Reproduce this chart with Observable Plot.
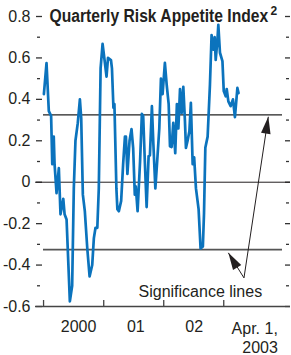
<!DOCTYPE html>
<html><head><meta charset="utf-8">
<script src="https://cdn.jsdelivr.net/npm/d3@7"></script>
<script src="https://cdn.jsdelivr.net/npm/@observablehq/plot@0.6"></script>
<style>html,body{margin:0;padding:0;background:#fff;} svg{display:block;}</style>
</head><body>
<div id="chart"></div>
<script>
const dates = ["2000-01-03","2000-01-19","2000-02-02","2000-02-16","2000-02-23","2000-03-03","2000-03-08","2000-03-20","2000-04-03","2000-04-13","2000-04-30","2000-05-08","2000-05-20","2000-06-09","2000-06-23","2000-07-03","2000-07-13","2000-07-27","2000-08-09","2000-08-17","2000-08-27","2000-09-08","2000-09-23","2000-10-07","2000-10-23","2000-11-02","2000-11-12","2000-11-23","2000-12-02","2000-12-13","2000-12-25",
"2001-01-06","2001-01-18","2001-01-27","2001-02-14","2001-02-20","2001-03-01","2001-03-07","2001-03-19","2001-03-25","2001-04-03","2001-04-17","2001-04-29","2001-05-10","2001-05-16","2001-05-25","2001-06-07","2001-06-19","2001-06-29","2001-07-09","2001-07-15","2001-07-26","2001-08-10","2001-08-21","2001-08-29","2001-09-08","2001-09-19","2001-10-01","2001-10-09","2001-10-21","2001-10-30","2001-11-11","2001-11-22","2001-12-05","2001-12-15","2001-12-25",
"2002-01-08","2002-01-19","2002-01-31","2002-02-08","2002-02-18","2002-02-28","2002-03-12","2002-03-22","2002-03-31","2002-04-10","2002-04-20","2002-04-30","2002-05-10","2002-05-16","2002-05-26","2002-06-06","2002-06-15","2002-06-26","2002-07-05","2002-07-16","2002-08-01","2002-08-13","2002-08-27","2002-09-03","2002-09-11","2002-09-25","2002-10-09","2002-10-19","2002-10-30","2002-11-07","2002-11-13","2002-11-23","2002-11-29","2002-12-09","2002-12-24",
"2003-01-01","2003-01-13","2003-01-19","2003-01-29","2003-02-12","2003-02-26","2003-03-10","2003-03-25","2003-04-01"];
const values = [0.425,0.575,0.343,0.32,0.087,0.22,0.087,-0.053,0.068,-0.155,-0.08,-0.155,-0.18,-0.575,-0.50,-0.03,0.20,0.285,0.40,0.31,-0.06,-0.14,-0.32,-0.455,-0.40,-0.27,-0.22,-0.22,-0.03,0.55,0.668,
0.59,0.51,0.60,0.59,0.55,0.36,0.377,-0.03,-0.13,-0.14,-0.09,0.087,0.22,0.22,0.04,0.2,0.256,0.165,-0.06,-0.02,-0.14,0.1,0.33,0.32,0.1,-0.12,0.126,0.13,0.367,0.183,-0.03,0.1,0.26,0.50,0.425,
0.576,0.47,0.377,0.174,0.17,0.287,0.14,0.377,0.26,0.45,0.335,0.46,0.295,0.166,0.2,0.246,0.383,0.087,0.12,-0.03,-0.13,-0.32,-0.31,-0.15,0.166,0.22,0.47,0.71,0.64,0.70,0.59,0.68,0.76,0.625,0.585,
0.44,0.415,0.45,0.39,0.367,0.40,0.314,0.455,0.43];

const yMajor = [-0.6,-0.4,-0.2,0,0.2,0.4,0.6,0.8];
const yMinor = [-0.5,-0.3,-0.1,0.1,0.3,0.5,0.7];
const yearTicks = ["2000-01-01","2001-01-01","2002-01-01","2003-01-01"];
const yearLabels = ["2000","01","02"];
const yearLabelDates = ["2000-08-01","2001-07-15","2002-07-05"];
const lastLabel = "Apr. 1,\n2003";
const lastLabelDate = "2003-11-26";
const significance = [0.325, -0.325];
const title = "Quarterly Risk Appetite Index";
const titleSup = "2";
const note = "Significance lines";
const arrowStartDate = "2003-05-04", arrowStartValue = -0.462;
const arrowTipDates = ["2003-09-29","2003-01-29"];
const arrowTipValues = [0.316,-0.341];
const arrowAngles = [-81.5,-121.1];

const parse = d => new Date(d);
const series = dates.map((d,i) => ({date: parse(d), value: values[i]}));
const arrows = arrowTipDates.map((d,i) => ({x1: parse(arrowStartDate), y1: arrowStartValue, x2: parse(d), y2: arrowTipValues[i]}));

function head(angleDeg, L = 17, W = 4.8) {
  return {draw(ctx) {
    const a = angleDeg * Math.PI / 180, ux = Math.cos(a), uy = Math.sin(a);
    const bx = -L*ux, by = -L*uy, nx = -uy, ny = ux;
    ctx.moveTo(0,0);
    ctx.lineTo(bx + W*nx, by + W*ny);
    ctx.lineTo(bx - W*nx, by - W*ny);
    ctx.closePath();
  }};
}

const ink = "#231f20";
const chart = Plot.plot({
  width: 291, height: 355,
  marginLeft: 35, marginRight: 1, marginTop: 16, marginBottom: 49,
  style: {fontFamily: "'Liberation Sans', Arial, sans-serif", fontSize: "16px", color: ink, background: "#fff"},
  x: {type: "utc", domain: [parse("1999-11-13"), parse("2004-02-11")], axis: null},
  y: {domain: [-0.6, 0.8]},
  marks: [
    Plot.axisY({ticks: yMajor, anchor: "left", tickSize: 0, tickPadding: 5, tickFormat: d => String(d), fontSize: 16}),
    Plot.tickY(yMajor, {insetLeft: 1, insetRight: 248, stroke: "#333", strokeWidth: 1.3}),
    Plot.tickY(yMajor, {insetLeft: 250, insetRight: 0, stroke: "#333", strokeWidth: 1.3}),
    Plot.tickY(yMinor, {insetLeft: 2, insetRight: 250, stroke: "#333", strokeWidth: 1.3}),
    Plot.tickY(yMinor, {insetLeft: 251, insetRight: 1, stroke: "#333", strokeWidth: 1.3}),
    Plot.ruleY([0], {stroke: ink, strokeWidth: 1}),
    Plot.ruleY([-0.6], {stroke: "#444", strokeWidth: 1.3}),
    Plot.tickX(yearTicks.map(parse), {insetTop: 284, stroke: "#444", strokeWidth: 1.3}),
    Plot.ruleY([significance[0]], {insetLeft: 8, insetRight: 8, stroke: "#222", strokeWidth: 1.2}),
    Plot.ruleY([significance[1]], {insetLeft: 8, insetRight: 8, stroke: "#555", strokeWidth: 1.8}),
    Plot.line(series, {x: "date", y: "value", stroke: "#0b73bd", strokeWidth: 2.7, strokeLinejoin: "round"}),
    Plot.text([title], {frameAnchor: "top-left", textAnchor: "start", lineAnchor: "middle", dx: 14, fontSize: 18.5, fontWeight: "bold"}),
    Plot.text([titleSup], {frameAnchor: "top-left", textAnchor: "start", lineAnchor: "middle", dx: 235, dy: -5, fontSize: 12, fontWeight: "bold"}),
    Plot.text([note], {frameAnchor: "bottom-left", textAnchor: "start", lineAnchor: "middle", dx: 103, dy: -15.1}),
    Plot.text(yearLabels.map((t,i) => ({date: parse(yearLabelDates[i]), t})), {x: "date", text: "t", frameAnchor: "bottom", lineAnchor: "top", dy: 14.6}),
    Plot.text([{date: parse(lastLabelDate), t: lastLabel}], {x: "date", text: "t", frameAnchor: "bottom", textAnchor: "end", lineAnchor: "top", dy: 14.6, lineHeight: 1.15}),
    Plot.link(arrows, {x1: "x1", y1: "y1", x2: "x2", y2: "y2", stroke: ink, strokeWidth: 1}),
    Plot.dot([arrows[0]], {x: "x2", y: "y2", symbol: head(arrowAngles[0]), fill: ink, stroke: "none"}),
    Plot.dot([arrows[1]], {x: "x2", y: "y2", symbol: head(arrowAngles[1]), fill: ink, stroke: "none"})
  ]
});
document.getElementById("chart").appendChild(chart);
const titleNode = d3.select(chart).selectAll("text").filter(function(){ return this.textContent === title; }).node();
if (titleNode) {
  const w = titleNode.getComputedTextLength();
  if (w > 219) {
    const t = titleNode.getAttribute("transform") || "";
    titleNode.setAttribute("transform", t + ` scale(${219 / w},1)`);
  }
}
</script>
</body></html>
